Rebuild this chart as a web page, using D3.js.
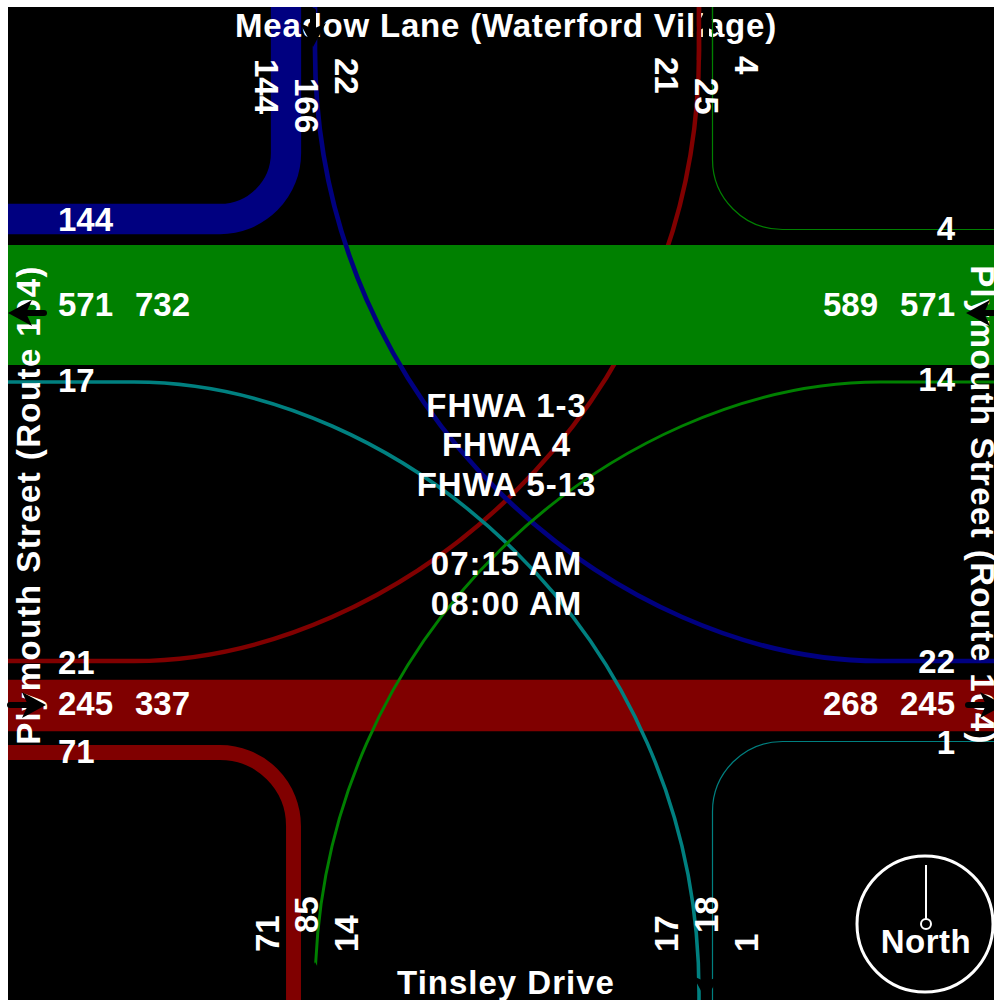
<!DOCTYPE html>
<html><head><meta charset="utf-8">
<script src="https://cdn.jsdelivr.net/npm/d3@7"></script>
<style>html,body{margin:0;padding:0;background:#fff}svg{display:block}
text{font-family:"Liberation Sans",Arial,sans-serif;font-weight:bold;font-size:33px;fill:#fff}</style>
</head><body><svg id="c" width="994" height="1000"></svg>
<script>
// Turning-movement volumes
const bandValues = [571, 245];            // link volumes drawn as bands
const bandColors = ["#008000", "#800000"];
const sweepValues = [144, 71];            // wide rounded right turns on the west side
const sweepColors = ["#000080", "#800000"];
const cornerValues = [4, 1];              // thin rounded turns on the east side
const cornerColors = ["#008000", "#008080"];
const diagonalValues = [22, 21, 17, 14];  // cross-movements through the intersection
const diagonalColors = ["#000080", "#800000", "#008080", "#008000"];

const westLabels  = ["144","571","732","17","21","245","337","71"];
const eastLabels  = ["4","589","571","14","22","268","245","1"];
const northLabels = ["144","166","22","21","25","4"];
const southLabels = ["71","85","14","17","18","1"];
const centerLines = ["FHWA 1-3","FHWA 4","FHWA 5-13","07:15 AM","08:00 AM"];
const roadNames   = ["Meadow Lane (Waterford Village)","Tinsley Drive","Plymouth Street (Route 104)"];

const W = 994, H = 1000, L = 8, T = 7;
const svg = d3.select("#c");
const width = d3.scaleLinear().domain([0, 571]).range([0, 120]);
const w = v => Math.max(1.2, width(v));

svg.append("rect").attr("x", L).attr("y", T).attr("width", W - L).attr("height", H - T).attr("fill", "#000");

// long cross-movements: one shape, reflected about the middle of the junction
const cx = 507, cy = 521.5;
const flips = [[1, 1], [-1, 1], [-1, -1], [1, -1]];
function diagonalPath(i) {
  const [fx, fy] = flips[i];
  const X = x => cx + fx * (x - cx), Y = y => cy + fy * (y - cy);
  const p = d3.path();
  p.moveTo(X(315), Y(fy > 0 ? T : 43));
  p.lineTo(X(315), Y(50));
  p.bezierCurveTo(X(315), Y(416), X(620), Y(661), X(880), Y(661));
  p.lineTo(fx > 0 ? W : L, Y(661));
  return p.toString();
}
const drawDiagonal = i => svg.append("path").attr("d", diagonalPath(i)).attr("fill", "none")
  .attr("stroke", diagonalColors[i]).attr("stroke-width", width(diagonalValues[i]));

// the red cross-movement passes beneath the green band
drawDiagonal(1);

// bands
const bandCentre = [305, 705.5];
svg.selectAll("rect.band").data(bandValues).join("rect").attr("class", "band")
  .attr("x", L).attr("width", W - L)
  .attr("y", (d, i) => bandCentre[i] - width(d) / 2).attr("height", d => width(d))
  .attr("fill", (d, i) => bandColors[i]);

// rounded wide turns
function sweepPath(i) {
  const p = d3.path();
  if (i === 0) { p.moveTo(L, 219); p.lineTo(220, 219); p.arc(220, 153, 66, Math.PI / 2, 0, true); p.lineTo(286, T); }
  else { p.moveTo(L, 752.5); p.lineTo(220, 752.5); p.arc(220, 826, 73.5, -Math.PI / 2, 0, false); p.lineTo(293.5, H); }
  return p.toString();
}
svg.selectAll("path.sweep").data(sweepValues).join("path").attr("class", "sweep")
  .attr("d", (d, i) => sweepPath(i)).attr("fill", "none")
  .attr("stroke", (d, i) => sweepColors[i]).attr("stroke-width", d => width(d));

// rounded thin turns
function cornerPath(i) {
  const p = d3.path();
  if (i === 0) { p.moveTo(W, 229.5); p.lineTo(782.5, 229.5); p.arc(782.5, 159.5, 70, Math.PI / 2, Math.PI, false); p.lineTo(712.5, T); }
  else { p.moveTo(W, 741.5); p.lineTo(782.5, 741.5); p.arc(782.5, 811.5, 70, -Math.PI / 2, Math.PI, true); p.lineTo(712.5, H); }
  return p.toString();
}
svg.selectAll("path.corner").data(cornerValues).join("path").attr("class", "corner")
  .attr("d", (d, i) => cornerPath(i)).attr("fill", "none")
  .attr("stroke", (d, i) => cornerColors[i]).attr("stroke-width", d => w(d));

[0, 2, 3].forEach(drawDiagonal);

// labels
const put = (s, x, y, anchor, rot, spacing) => {
  const t = svg.append("text").text(s).attr("text-anchor", anchor || "start");
  if (spacing) t.attr("letter-spacing", spacing);
  if (rot) t.attr("transform", `translate(${x},${y}) rotate(${rot})`);
  else t.attr("x", x).attr("y", y);
  return t;
};
const westPos = [[58,231],[58,316],[135,316],[58,392],[58,674],[58,715],[135,715],[58,763]];
westLabels.forEach((s, i) => put(s, westPos[i][0], westPos[i][1]));
const eastPos = [[955,240],[878,316],[955,316],[955,391],[955,673],[878,715],[955,715],[955,754]];
eastLabels.forEach((s, i) => put(s, eastPos[i][0], eastPos[i][1], "end"));
const northPos = [[255,59],[295,78],[335,58],[655,57],[695,78],[735,56]];
northLabels.forEach((s, i) => put(s, northPos[i][0], northPos[i][1], "start", 90));
const southPos = [[279,952],[318,933],[358,952],[678,952],[718,933],[758,952]];
southLabels.forEach((s, i) => put(s, southPos[i][0], southPos[i][1], "start", -90));
const centerBase = [417, 456, 496, 575, 615];
centerLines.forEach((s, i) => put(s, 506.5, centerBase[i], "middle", 0, 0.95));
put(roadNames[0], 506, 37, "middle", 0, 0.8);
put(roadNames[1], 506, 994, "middle", 0, 1);
put(roadNames[2], 40, 505, "middle", -90, 1.4);
put(roadNames[2], 971, 505, "middle", 90, 1.4);

// direction arrows, drawn pointing +x then rotated
const arrow = (tipX, tipY, deg) => {
  const g = svg.append("g").attr("transform", `translate(${tipX},${tipY}) rotate(${deg})`);
  g.append("line").attr("x1", -36).attr("x2", -14).attr("stroke", "#000").attr("stroke-width", 6).attr("stroke-linecap", "round");
  g.append("path").attr("d", d3.line()([[0,0],[-24,-13],[-18,0],[-24,13]]) + "Z").attr("fill", "#000");
};
arrow(8, 313, 180);
arrow(46, 705, 0);
arrow(966, 313, 180);
arrow(1004, 705, 0);
arrow(313, 47, 90);
arrow(706, 9, -90);
arrow(315, 962, -90);
arrow(706, 1000, 90);

// the two east-side lines stay on top of the arrow at the top edge
const defs = svg.append("defs");
defs.append("clipPath").attr("id", "topEdge").append("rect").attr("x", 680).attr("y", T).attr("width", 50).attr("height", 53);
svg.append("g").attr("clip-path", "url(#topEdge)").call(g => {
  g.append("path").attr("d", diagonalPath(1)).attr("fill", "none").attr("stroke", diagonalColors[1]).attr("stroke-width", width(diagonalValues[1]));
  g.append("path").attr("d", cornerPath(0)).attr("fill", "none").attr("stroke", cornerColors[0]).attr("stroke-width", w(cornerValues[0]));
});

// north marker
const north = svg.append("g");
north.append("circle").attr("cx", 925).attr("cy", 924).attr("r", 68).attr("fill", "none").attr("stroke", "#fff").attr("stroke-width", 3);
north.append("line").attr("x1", 926).attr("x2", 926).attr("y1", 865).attr("y2", 919).attr("stroke", "#fff").attr("stroke-width", 2);
north.append("circle").attr("cx", 926).attr("cy", 924).attr("r", 5).attr("fill", "#000").attr("stroke", "#fff").attr("stroke-width", 2);
put("North", 926, 953, "middle", 0, 0.5);
</script></body></html>
